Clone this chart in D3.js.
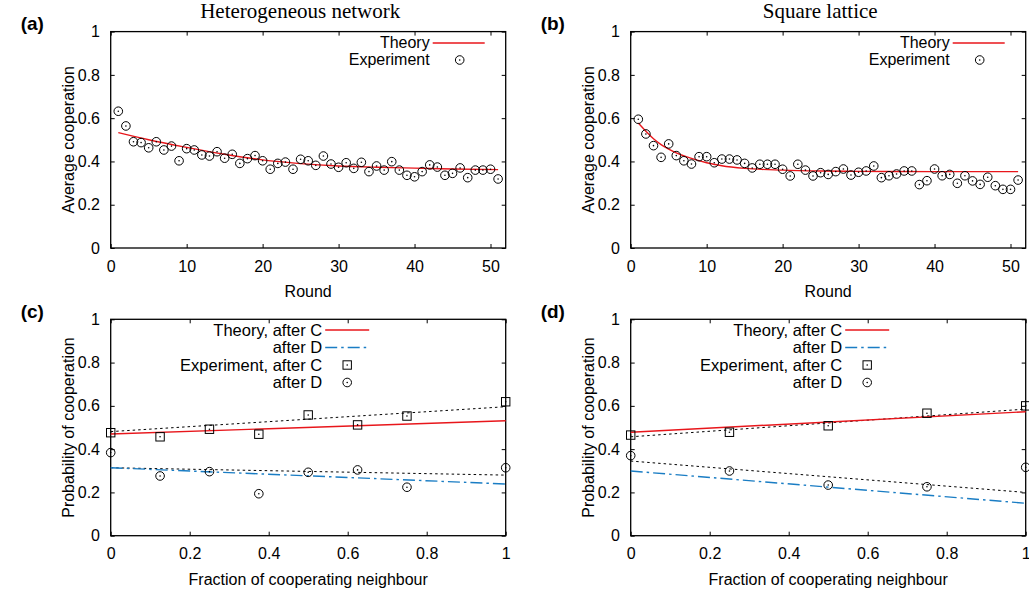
<!DOCTYPE html>
<html>
<head>
<meta charset="utf-8">
<script src="https://cdn.jsdelivr.net/npm/d3@7"></script>
<style>
  body { margin: 0; background: #fff; }
  svg { display: block; }
  text { font-family: "Liberation Sans", Arial, sans-serif; fill: #000; }
</style>
</head>
<body>
<svg id="chart" width="1029" height="594"></svg>
<script>
// rounds 1..51
const rounds = d3.range(1, 52);

// (a) heterogeneous network, experiment
const expHetero = [0.632, 0.564, 0.491, 0.487, 0.463, 0.491, 0.453, 0.471, 0.403, 0.459,
  0.453, 0.430, 0.425, 0.445, 0.415, 0.433, 0.391, 0.413, 0.427, 0.403,
  0.364, 0.391, 0.397, 0.364, 0.410, 0.403, 0.382, 0.425, 0.388, 0.373,
  0.394, 0.368, 0.396, 0.353, 0.379, 0.360, 0.399, 0.360, 0.336, 0.329,
  0.353, 0.384, 0.374, 0.336, 0.345, 0.370, 0.325, 0.360, 0.360, 0.364, 0.319];
const theoryHeteroRounds = [1, 5, 10, 15, 20, 25, 30, 35, 40, 45, 51];
const theoryHetero = [0.533, 0.500, 0.465, 0.433, 0.407, 0.390, 0.379, 0.373, 0.369, 0.365, 0.362];

// (b) square lattice, experiment
const expLattice = [0.595, 0.527, 0.473, 0.419, 0.481, 0.427, 0.403, 0.388, 0.422, 0.422,
  0.394, 0.411, 0.411, 0.407, 0.391, 0.370, 0.387, 0.387, 0.387, 0.364,
  0.333, 0.387, 0.360, 0.333, 0.348, 0.340, 0.353, 0.365, 0.337, 0.350,
  0.356, 0.379, 0.325, 0.334, 0.342, 0.356, 0.356, 0.293, 0.311, 0.365,
  0.334, 0.340, 0.299, 0.334, 0.310, 0.294, 0.327, 0.288, 0.271, 0.271, 0.314];
const theoryLatticeRounds = [1, 2, 3, 4, 5, 6, 8, 10, 12, 15, 20, 25, 30, 40, 51];
const theoryLattice = [0.578, 0.540, 0.505, 0.478, 0.457, 0.440, 0.414, 0.394, 0.380, 0.368, 0.360, 0.356, 0.354, 0.353, 0.353];

// (c) heterogeneous network, conditional cooperation
const fracHetero = [0, 0.125, 0.25, 0.375, 0.5, 0.625, 0.75, 1];
const heteroAfterC = [0.476, 0.457, 0.492, 0.469, 0.558, 0.512, 0.553, 0.619];
const heteroAfterD = [0.384, 0.276, 0.296, 0.194, 0.293, 0.304, 0.224, 0.314];
const lineEnds = [0, 1];
const heteroFitC = [0.481, 0.596];
const heteroFitD = [0.314, 0.280];
const heteroTheoryC = [0.470, 0.531];
const heteroTheoryD = [0.314, 0.239];

// (d) square lattice, conditional cooperation
const fracLattice = [0, 0.25, 0.5, 0.75, 1];
const latticeAfterC = [0.465, 0.478, 0.508, 0.566, 0.600];
const latticeAfterD = [0.370, 0.299, 0.234, 0.226, 0.316];
const latticeFitC = [0.457, 0.585];
const latticeFitD = [0.345, 0.200];
const latticeTheoryC = [0.478, 0.573];
const latticeTheoryD = [0.299, 0.150];

const roundTicks = [0, 10, 20, 30, 40, 50];
const roundTickLabels = ["0", "10", "20", "30", "40", "50"];
const fracTicks = [0, 0.2, 0.4, 0.6, 0.8, 1];
const fracTickLabels = ["0", "0.2", "0.4", "0.6", "0.8", "1"];
const yTicks = [0, 0.2, 0.4, 0.6, 0.8, 1];
const yTickLabels = ["0", "0.2", "0.4", "0.6", "0.8", "1"];

const RED = "#e8161b";
const BLUE = "#1a7dc4";
const PW = 395, PH = 216.4;
const svg = d3.select("#chart");

function makePanel(opt) {
  const g = svg.append("g");
  const x = d3.scaleLinear().domain(opt.xDomain).range([opt.left, opt.left + PW]);
  const y = d3.scaleLinear().domain([0, 1]).range([opt.top + PH, opt.top]);

  const xl = (v) => opt.xTickLabels[opt.xTicks.indexOf(v)];
  const yl = (v) => yTickLabels[yTicks.indexOf(v)];

  const bottom = g.append("g").attr("transform", `translate(0,${opt.top + PH})`)
    .call(d3.axisBottom(x).tickValues(opt.xTicks).tickFormat(xl).tickSize(-4).tickSizeOuter(0).tickPadding(12.2));
  const top = g.append("g").attr("transform", `translate(0,${opt.top})`)
    .call(d3.axisTop(x).tickValues(opt.xTicks).tickFormat("").tickSize(-4).tickSizeOuter(0));
  const left = g.append("g").attr("transform", `translate(${opt.left},0)`)
    .call(d3.axisLeft(y).tickValues(yTicks).tickFormat(yl).tickSize(-4).tickSizeOuter(0).tickPadding(10.7));
  const right = g.append("g").attr("transform", `translate(${opt.left + PW},0)`)
    .call(d3.axisRight(y).tickValues(yTicks).tickFormat("").tickSize(-4).tickSizeOuter(0));

  [bottom, top, left, right].forEach((a) => {
    a.select(".domain").remove();
    a.selectAll(".tick line").attr("stroke", "#000").attr("stroke-width", 1);
    a.selectAll("text").style("font-size", "16px").attr("font-family", null);
  });

  g.append("rect")
    .attr("x", opt.left).attr("y", opt.top)
    .attr("width", PW).attr("height", PH)
    .attr("fill", "none").attr("stroke", "#000").attr("stroke-width", 1.3);

  g.append("text")
    .attr("x", opt.left + PW / 2).attr("y", opt.top + PH + 49.3)
    .attr("text-anchor", "middle").style("font-size", "16px")
    .text(opt.xLabel);

  g.append("text")
    .attr("transform", `translate(${opt.left - 36.7},${opt.top + PH / 2}) rotate(-90)`)
    .attr("text-anchor", "middle").style("font-size", "16px")
    .text(opt.yLabel);

  g.append("text")
    .attr("x", opt.left - 90).attr("y", opt.top - 1.5)
    .style("font-size", "19px").style("font-weight", "bold")
    .text(opt.tag);

  if (opt.title) {
    g.append("text")
      .attr("x", opt.left + PW / 2 - 8).attr("y", opt.top - 13.5)
      .attr("text-anchor", "middle")
      .style("font-family", "'Liberation Serif', 'Times New Roman', serif")
      .style("font-size", "21px")
      .text(opt.title);
  }
  return { g, x, y };
}

function circleMark(g, cx, cy) {
  g.append("circle").attr("cx", cx).attr("cy", cy).attr("r", 4.3)
    .attr("fill", "none").attr("stroke", "#000").attr("stroke-width", 1);
  g.append("circle").attr("cx", cx).attr("cy", cy).attr("r", 0.8).attr("fill", "#000");
}

function squareMark(g, cx, cy) {
  g.append("rect").attr("x", cx - 4.2).attr("y", cy - 4.2).attr("width", 8.4).attr("height", 8.4)
    .attr("fill", "none").attr("stroke", "#000").attr("stroke-width", 1);
  g.append("circle").attr("cx", cx).attr("cy", cy).attr("r", 0.8).attr("fill", "#000");
}

function drawLine(p, xs, ys, style) {
  const line = d3.line()
    .x((d) => p.x(d[0])).y((d) => p.y(d[1]))
    .curve(style.curve || d3.curveLinear);
  p.g.append("path")
    .datum(xs.map((v, i) => [v, ys[i]]))
    .attr("d", line)
    .attr("fill", "none")
    .attr("stroke", style.color)
    .attr("stroke-width", style.width || 1.2)
    .attr("stroke-dasharray", style.dash || null);
}

// ----- top panels (time series) -----
function roundPanel(left, tag, title, theoryRounds, theoryVals, expVals) {
  const p = makePanel({
    left, top: 31.6, xDomain: [0, 52], xTicks: roundTicks, xTickLabels: roundTickLabels,
    xLabel: "Round", yLabel: "Average cooperation", tag, title
  });
  drawLine(p, theoryRounds, theoryVals, { color: RED, width: 1.4, curve: d3.curveMonotoneX });
  rounds.forEach((r, i) => circleMark(p.g, p.x(r), p.y(expVals[i])));

  // legend
  const lx = left + 319;
  p.g.append("text").attr("x", lx).attr("y", 48).attr("text-anchor", "end").style("font-size", "16px").text("Theory");
  p.g.append("line").attr("x1", lx + 3).attr("x2", lx + 55).attr("y1", 43).attr("y2", 43)
    .attr("stroke", RED).attr("stroke-width", 1.4);
  p.g.append("text").attr("x", lx).attr("y", 65).attr("text-anchor", "end").style("font-size", "16px").text("Experiment");
  circleMark(p.g, lx + 30, 60);
}

roundPanel(110.7, "(a)", "Heterogeneous network", theoryHeteroRounds, theoryHetero, expHetero);
roundPanel(630.7, "(b)", "Square lattice", theoryLatticeRounds, theoryLattice, expLattice);

// ----- bottom panels (conditional cooperation) -----
function fracPanel(left, tag, fracs, afterC, afterD, fitC, fitD, thC, thD) {
  const p = makePanel({
    left, top: 319.3, xDomain: [0, 1], xTicks: fracTicks, xTickLabels: fracTickLabels,
    xLabel: "Fraction of cooperating neighbour", yLabel: "Probability of cooperation", tag
  });
  drawLine(p, lineEnds, fitC, { color: "#000", width: 1, dash: "2.5,3" });
  drawLine(p, lineEnds, fitD, { color: "#000", width: 1, dash: "2.5,3" });
  drawLine(p, lineEnds, thC, { color: RED, width: 1.4 });
  drawLine(p, lineEnds, thD, { color: BLUE, width: 1.4, dash: "12,4,2.5,4" });
  fracs.forEach((f, i) => squareMark(p.g, p.x(f), p.y(afterC[i])));
  fracs.forEach((f, i) => circleMark(p.g, p.x(f), p.y(afterD[i])));

  // legend
  const lx = left + 211.5;
  const rows = [330, 347.5, 365, 382.5];
  const labels = ["Theory, after C", "after D", "Experiment, after C", "after D"];
  labels.forEach((t, i) => {
    p.g.append("text").attr("x", lx).attr("y", rows[i] + 5.5).attr("text-anchor", "end")
      .style("font-size", "16.5px").text(t);
  });
  p.g.append("line").attr("x1", lx + 3).attr("x2", lx + 47).attr("y1", rows[0]).attr("y2", rows[0])
    .attr("stroke", RED).attr("stroke-width", 1.4);
  p.g.append("line").attr("x1", lx + 3).attr("x2", lx + 47).attr("y1", rows[1]).attr("y2", rows[1])
    .attr("stroke", BLUE).attr("stroke-width", 1.4).attr("stroke-dasharray", "12,4,2.5,4");
  squareMark(p.g, lx + 25, rows[2]);
  circleMark(p.g, lx + 25, rows[3]);
}

fracPanel(110.7, "(c)", fracHetero, heteroAfterC, heteroAfterD, heteroFitC, heteroFitD, heteroTheoryC, heteroTheoryD);
fracPanel(630.7, "(d)", fracLattice, latticeAfterC, latticeAfterD, latticeFitC, latticeFitD, latticeTheoryC, latticeTheoryD);
</script>
</body>
</html>
